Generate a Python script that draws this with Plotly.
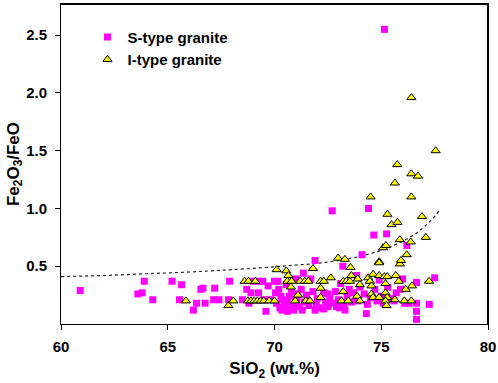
import plotly.graph_objects as go

# S-type granite (SiO2 wt.%, Fe2O3/FeO)
s_sio2 = [60.9, 63.6, 63.8, 63.9, 64.3, 65.2, 65.65, 65.55, 66.2, 66.35, 66.55, 66.65, 66.75, 67.2, 67.15, 67.4,
          67.9, 67.85, 68.5, 68.7, 68.8, 68.9, 69.0, 69.2, 69.25, 69.45, 69.5, 69.6, 69.7, 69.8, 70.0, 70.05,
          70.1, 70.15, 70.2, 70.25, 70.3, 70.4, 70.45, 70.55, 70.6, 70.7, 70.75, 70.8, 70.9, 71.0, 71.05, 71.15,
          71.25, 71.35, 71.4, 71.5, 71.6, 71.7, 71.8, 71.9, 71.95, 72.0, 72.1, 72.3, 72.4, 72.5, 72.6, 72.7,
          72.75, 72.85, 72.9, 73.0, 73.1, 73.2, 73.25, 73.4, 73.5, 73.6, 73.7, 73.85, 73.9, 74.0, 74.1, 74.2,
          74.3, 74.35, 74.4, 74.5, 74.65, 74.7, 74.8, 74.9, 75.0, 75.1, 75.25, 75.3, 75.45, 75.6, 75.7, 75.9,
          76.0, 76.1, 76.2, 76.3, 76.65, 76.65, 76.65, 76.65, 77.25, 77.5, 75.15,
          70.35, 70.6, 70.9, 71.1, 71.3, 71.9, 72.3, 72.5, 73.05, 73.3]
s_ratio = [0.29, 0.26, 0.27, 0.37, 0.21, 0.37, 0.34, 0.21, 0.12, 0.18, 0.30, 0.31, 0.18, 0.31, 0.21, 0.21,
           0.37, 0.21, 0.21, 0.30, 0.18, 0.27, 0.37, 0.37, 0.27, 0.37, 0.21, 0.11, 0.33, 0.21, 0.37, 0.27,
           0.18, 0.37, 0.30, 0.14, 0.24, 0.21, 0.16, 0.34, 0.19, 0.24, 0.13, 0.28, 0.17, 0.39, 0.22, 0.15,
           0.30, 0.44, 0.19, 0.25, 0.16, 0.39, 0.28, 0.55, 0.17, 0.22, 0.14, 0.27, 0.19, 0.15, 0.22, 0.98,
           0.18, 0.28, 0.15, 0.21, 0.35, 0.50, 0.17, 0.24, 0.30, 0.19, 0.27, 0.42, 0.20, 0.32, 0.60, 0.26,
           0.09, 0.17, 1.00, 0.23, 0.77, 0.30, 0.20, 0.38, 0.24, 0.18, 0.78, 0.32, 0.22, 0.20, 0.27, 0.30,
           0.39, 0.18, 0.68, 0.18, 0.36, 0.18, 0.11, 0.04, 0.17, 0.40, 2.55,
           0.12, 0.11, 0.12, 0.26, 0.12, 0.12, 0.13, 0.26, 0.14, 0.12]

# I-type granite
i_sio2 = [65.85, 67.84, 68.07, 68.6, 68.78, 69.1, 68.75, 68.9, 69.05, 69.2, 69.35, 69.5, 69.75, 70.0, 70.1,
          70.55, 70.65, 70.6, 70.8, 70.77, 70.97, 71.1, 71.2, 71.42, 71.58, 71.47, 71.66, 71.8, 72.16, 72.31,
          72.16, 72.16, 72.64, 72.98, 73.3, 73.22, 73.37, 73.22, 73.14, 73.45, 73.56, 73.6, 73.53, 73.87, 73.9,
          74.0, 74.0, 74.5, 74.39, 74.47, 74.54, 74.54, 74.62, 74.62, 74.9, 74.9, 74.9, 74.9, 75.09, 75.22,
          75.15, 75.2, 75.28, 75.2, 75.28, 75.2, 75.25, 75.29, 75.64, 75.75, 75.48, 75.76, 75.87, 75.68, 75.64,
          75.82, 75.87, 75.92, 76.15, 76.08, 76.19, 76.38, 76.41, 76.41, 76.72, 76.41, 76.44, 76.41, 76.91,
          77.09, 77.24, 77.55]
i_ratio = [0.20, 0.16, 0.20, 0.37, 0.37, 0.37, 0.20, 0.20, 0.20, 0.20, 0.20, 0.20, 0.20, 0.20, 0.47,
           0.46, 0.42, 0.37, 0.37, 0.32, 0.20, 0.25, 0.37, 0.37, 0.37, 0.20, 0.20, 0.48, 0.37, 0.37,
           0.31, 0.23, 0.40, 0.57, 0.56, 0.37, 0.37, 0.28, 0.20, 0.20, 0.49, 0.42, 0.37, 0.24, 0.39,
           0.34, 0.20, 1.10, 0.40, 0.37, 0.33, 0.26, 0.23, 0.43, 0.54, 0.53, 0.42, 0.23, 0.66, 0.68,
           0.41, 0.35, 0.41, 0.27, 0.23, 0.20, 0.16, 0.95, 1.22, 1.38, 0.86, 0.88, 0.73, 0.42, 0.21,
           0.37, 0.52, 0.55, 0.30, 0.20, 0.60, 0.71, 1.96, 1.30, 1.28, 1.10, 0.33, 0.20, 0.93,
           0.75, 0.37, 1.50]

# dotted trend curve
curve_sio2 = [60, 62, 64, 66, 67, 68, 70, 71, 72, 73, 74, 74.6, 75.2, 75.7, 76.2, 76.6, 77.0, 77.4, 77.75]
curve_ratio = [0.41, 0.42, 0.435, 0.45, 0.46, 0.47, 0.495, 0.51, 0.525, 0.55, 0.585, 0.615, 0.65, 0.69, 0.735,
               0.78, 0.84, 0.91, 0.99]

x_ticks = [60, 65, 70, 75, 80]
y_ticks = [0.5, 1.0, 1.5, 2.0, 2.5]

font_fam = "Liberation Sans, Arial, sans-serif"

fig = go.Figure()
fig.add_trace(go.Scatter(x=curve_sio2, y=curve_ratio, mode="lines", showlegend=False,
                         line=dict(color="#222222", width=1.2, dash="dot", shape="spline"), hoverinfo="skip"))
fig.add_trace(go.Scatter(x=s_sio2, y=s_ratio, mode="markers", name="S-type granite",
                         marker=dict(symbol="square", size=7, color="#FF00FF", line=dict(width=0))))
fig.add_trace(go.Scatter(x=i_sio2, y=i_ratio, mode="markers", name="I-type granite",
                         marker=dict(symbol="triangle-up", size=8, color="#FFFF00",
                                     line=dict(width=1, color="black"))))

axis_common = dict(showline=True, linecolor="black", linewidth=1, mirror=True, ticks="outside",
                   ticklen=5, tickcolor="black", showgrid=False, zeroline=False, automargin=False,
                   tickfont=dict(family=font_fam, size=15, color="black", weight="bold"))

fig.update_layout(
    width=498, height=383,
    margin=dict(l=61, r=10, t=4, b=59),
    paper_bgcolor="white", plot_bgcolor="white",
    font=dict(family=font_fam, color="black"),
    xaxis=dict(range=[60, 80], tickvals=x_ticks, ticktext=[str(v) for v in x_ticks], ticklabelstandoff=4,
               title=dict(text="<b>SiO<sub>2</sub> (wt.%)</b>", font=dict(family=font_fam, size=17), standoff=8),
               **axis_common),
    yaxis=dict(range=[0, 2.77], tickvals=y_ticks, ticktext=[f"{v:.1f}" for v in y_ticks], ticklabelstandoff=5,
               title=dict(text="<b>Fe<sub>2</sub>O<sub>3</sub>/FeO</b>", font=dict(family=font_fam, size=17), standoff=2),
               **axis_common),
    legend=dict(x=0.062, y=0.948, xanchor="left", yanchor="top", bgcolor="rgba(0,0,0,0)",
                font=dict(family=font_fam, size=15, color="black", weight="bold"), tracegroupgap=0),
    shapes=[
        dict(type="line", xref="paper", yref="paper", x0=0, x1=1, y0=1, y1=1, line=dict(color="black", width=2)),
        dict(type="line", xref="paper", yref="paper", x0=1, x1=1, y0=0, y1=1, line=dict(color="black", width=2)),
    ],
)

fig.write_html("out.html", config={"displayModeBar": False},
               post_script="document.body.style.margin='0';document.body.style.padding='0';")
